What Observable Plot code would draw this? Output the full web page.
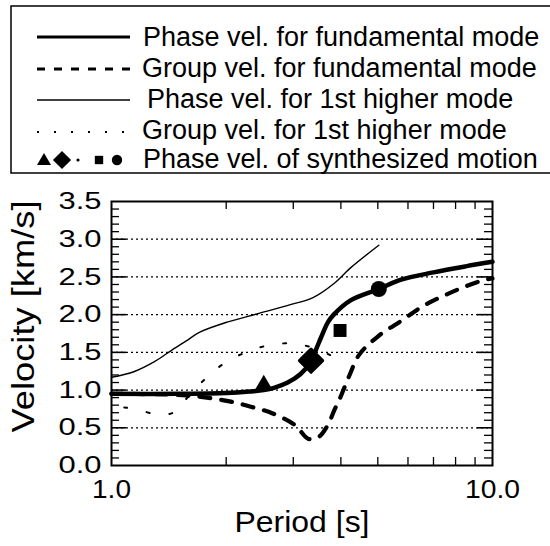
<!DOCTYPE html>
<html>
<head>
<meta charset="utf-8">
<script src="https://cdn.jsdelivr.net/npm/d3@7"></script>
<script src="https://cdn.jsdelivr.net/npm/@observablehq/plot@0.6"></script>
<style>
  html, body { margin: 0; padding: 0; background: white; }
  #wrap { width: 550px; height: 546px; position: relative; overflow: hidden; font-family: "Liberation Sans", Arial, Helvetica, sans-serif; }
  #legend { display: block; }
</style>
</head>
<body>
<div id="wrap"></div>
<script>
// ---- Data (period [s], velocity [km/s]) ----
const phaseFundT = [1.0, 1.5, 2.0, 2.3, 2.51, 2.67, 2.9, 3.13, 3.34, 3.45, 3.55, 3.7, 3.83, 4.24, 5.03, 5.73, 7.0, 8.5, 10.0];
const phaseFundV = [0.95, 0.95, 0.96, 0.98, 1.0, 1.03, 1.1, 1.21, 1.38, 1.55, 1.7, 1.9, 2.0, 2.19, 2.34, 2.46, 2.56, 2.64, 2.70];

const groupFundT = [1.0, 1.3, 1.57, 1.78, 2.04, 2.32, 2.65, 3.04, 3.28, 3.49, 3.69, 3.85, 4.0, 4.2, 4.47, 5.0, 5.81, 6.55, 7.44, 8.55, 9.53, 10.0];
const groupFundV = [0.95, 0.945, 0.93, 0.90, 0.85, 0.78, 0.69, 0.53, 0.355, 0.375, 0.53, 0.74, 0.92, 1.18, 1.47, 1.71, 1.93, 2.11, 2.25, 2.38, 2.46, 2.48];

const phaseHighT = [1.0, 1.14, 1.3, 1.44, 1.58, 1.71, 2.01, 2.41, 2.89, 3.39, 3.83, 4.24, 5.03];
const phaseHighV = [1.17, 1.24, 1.38, 1.53, 1.66, 1.77, 1.90, 2.01, 2.12, 2.23, 2.41, 2.62, 2.92];

const groupHighT = [1.08, 1.17, 1.34, 1.45, 1.53, 1.73, 1.97, 2.25, 2.56, 2.95, 3.33, 3.80];
const groupHighV = [0.77, 0.74, 0.67, 0.70, 0.82, 1.11, 1.35, 1.50, 1.59, 1.62, 1.57, 1.45];

const synthSymbols = ["triangle", "diamond2", "square", "circle"];
const synthT = [2.51, 3.34, 3.98, 5.03];
const synthV = [1.07, 1.39, 1.79, 2.34];

const legendLabels = [
  "Phase vel. for fundamental mode",
  "Group vel. for fundamental mode",
  "Phase vel. for 1st higher mode",
  "Group vel. for 1st higher mode",
  "Phase vel. of synthesized motion"
];
const xTickValues = [1, 10];
const yTickValues = [0, 0.5, 1.0, 1.5, 2.0, 2.5, 3.0, 3.5];
const gridValues = [0.5, 1.0, 1.5, 2.0, 2.5, 3.0];
const xMinorTicks = [2, 3, 4, 5, 6, 7, 8, 9];
const yMinorTicks = d3.range(1, 35).map(i => i / 10).filter(v => Math.abs(v * 2 - Math.round(v * 2)) > 1e-6);
const xTitle = "Period [s]";
const yTitle = "Velocity [km/s]";

const zip = (T, V) => T.map((t, i) => ({t, v: V[i]}));
const phaseFund = zip(phaseFundT, phaseFundV);
const groupFund = zip(groupFundT, groupFundV);
const phaseHigh = zip(phaseHighT, phaseHighV);
const groupHigh = zip(groupHighT, groupHighV);
const synth = synthT.map((t, i) => ({t, v: synthV[i], s: synthSymbols[i]}));

const FONT = "'Liberation Sans', Arial, Helvetica, sans-serif";
const wrap = document.getElementById("wrap");

// ---- Legend (above the plot) ----
const LH = 182;
const leg = d3.create("svg").attr("id", "legend").attr("width", 550).attr("height", LH)
  .style("font-family", FONT);
leg.append("rect").attr("x", 11).attr("y", 6).attr("width", 560).attr("height", 167)
  .attr("fill", "none").attr("stroke", "black").attr("stroke-width", 1.5);
const rowY = [37, 69, 100, 132, 160];
const baseY = [46, 77, 108, 139, 168];
const textX = [143, 142, 147, 142, 143];
const lineStyles = [
  {w: 3.2, dash: null},
  {w: 3.2, dash: "8,9"},
  {w: 1.4, dash: null},
  {w: 1.8, dash: "2,15"}
];
lineStyles.forEach((s, i) => {
  const l = leg.append("line").attr("x1", 37).attr("x2", 130).attr("y1", rowY[i]).attr("y2", rowY[i])
    .attr("stroke", "black").attr("stroke-width", s.w);
  if (s.dash) l.attr("stroke-dasharray", s.dash);
});
const legSyms = [
  {type: d3.symbolTriangle, x: 44, size: 85},
  {type: d3.symbolDiamond2, x: 62, size: 210},
  {type: d3.symbolCircle, x: 78, size: 8},
  {type: d3.symbolSquare, x: 99, size: 70},
  {type: d3.symbolCircle, x: 117, size: 85}
];
legSyms.forEach(s => {
  leg.append("path").attr("d", d3.symbol(s.type, s.size)())
    .attr("transform", `translate(${s.x},${rowY[4] + (s.type === d3.symbolTriangle ? 1 : 0)})`)
    .attr("fill", "black");
});
legendLabels.forEach((t, i) => {
  leg.append("text").attr("x", textX[i]).attr("y", baseY[i]).attr("font-size", 27)
    .attr("fill", "black").text(t);
});
wrap.appendChild(leg.node());

// ---- Plot ----
const W = 550, H = 546 - LH;
const mT = 19, mB = 81, mL = 111, mR = 58;
const FW = W - mL - mR, FH = H - mT - mB;

const chart = Plot.plot({
  width: W, height: H,
  marginTop: mT, marginBottom: mB, marginLeft: mL, marginRight: mR,
  x: {type: "log", domain: [1, 10], label: null},
  y: {domain: [0, 3.5], label: null},
  style: {fontFamily: FONT, background: "white", color: "black", overflow: "visible"},
  marks: [
    Plot.ruleY(gridValues, {stroke: "black", strokeWidth: 1.3, strokeDasharray: "2,3"}),
    Plot.ruleY(yMinorTicks, {stroke: "black", strokeWidth: 1.3, insetRight: FW - 8}),
    Plot.ruleY(yMinorTicks, {stroke: "black", strokeWidth: 1.3, insetLeft: FW - 8}),
    Plot.ruleY(gridValues, {stroke: "black", strokeWidth: 1.6, insetRight: FW - 15}),
    Plot.ruleY(gridValues, {stroke: "black", strokeWidth: 1.6, insetLeft: FW - 15}),
    Plot.ruleX(xMinorTicks, {stroke: "black", strokeWidth: 1.3, insetBottom: FH - 8}),
    Plot.ruleX(xMinorTicks, {stroke: "black", strokeWidth: 1.3, insetTop: FH - 8}),
    Plot.line(groupHigh, {x: "t", y: "v", curve: "catmull-rom", stroke: "black", strokeWidth: 2, strokeDasharray: "3,20"}),
    Plot.line(phaseHigh, {x: "t", y: "v", curve: "catmull-rom", stroke: "black", strokeWidth: 1.4}),
    Plot.line(groupFund, {x: "t", y: "v", curve: "catmull-rom", stroke: "black", strokeWidth: 4.2, strokeDasharray: "11,11"}),
    Plot.line(phaseFund, {x: "t", y: "v", curve: "catmull-rom", stroke: "black", strokeWidth: 4.5}),
    Plot.dot(synth.filter(d => d.s === "triangle"), {x: "t", y: "v", symbol: "triangle", r: 6.5, fill: "black"}),
    Plot.dot(synth.filter(d => d.s === "diamond2"), {x: "t", y: "v", symbol: "diamond2", r: 10.5, fill: "black", stroke: "black", strokeWidth: 3, strokeLinejoin: "round"}),
    Plot.dot(synth.filter(d => d.s === "square"), {x: "t", y: "v", symbol: "square", r: 7.3, fill: "black"}),
    Plot.dot(synth.filter(d => d.s === "circle"), {x: "t", y: "v", symbol: "circle", r: 8, fill: "black"}),
    Plot.frame({stroke: "black", strokeWidth: 2}),
    Plot.axisY(yTickValues, {tickSize: 0, tickPadding: 10, tickFormat: d => d.toFixed(1), fontSize: 24, label: null}),
    Plot.axisX(xTickValues, {tickSize: 0, tickPadding: 15, tickFormat: d => d.toFixed(1), fontSize: 25, label: null}),
    Plot.text([xTitle], {frameAnchor: "bottom", dy: 66, fontSize: 30, fill: "black", textAnchor: "middle"}),
    Plot.text([yTitle], {frameAnchor: "left", rotate: -90, dx: -88, dy: -17, fontSize: 32, fill: "black", textAnchor: "middle"})
  ]
});
wrap.appendChild(chart);

// stretch tick labels & titles to the widths seen in the reference
chart.querySelectorAll('[aria-label="y-axis tick label"] text').forEach(t => {
  t.setAttribute("textLength", 43);
  t.setAttribute("lengthAdjust", "spacingAndGlyphs");
});
chart.querySelectorAll('[aria-label="x-axis tick label"] text').forEach(t => {
  const s = t.textContent;
  t.setAttribute("textLength", s.length > 3 ? 55 : 39);
  t.setAttribute("lengthAdjust", "spacingAndGlyphs");
});
chart.querySelectorAll('text').forEach(t => {
  if (t.textContent === xTitle) { t.setAttribute("textLength", 135); t.setAttribute("lengthAdjust", "spacingAndGlyphs"); }
  if (t.textContent === yTitle) { t.setAttribute("textLength", 232); t.setAttribute("lengthAdjust", "spacingAndGlyphs"); }
});
</script>
</body>
</html>
